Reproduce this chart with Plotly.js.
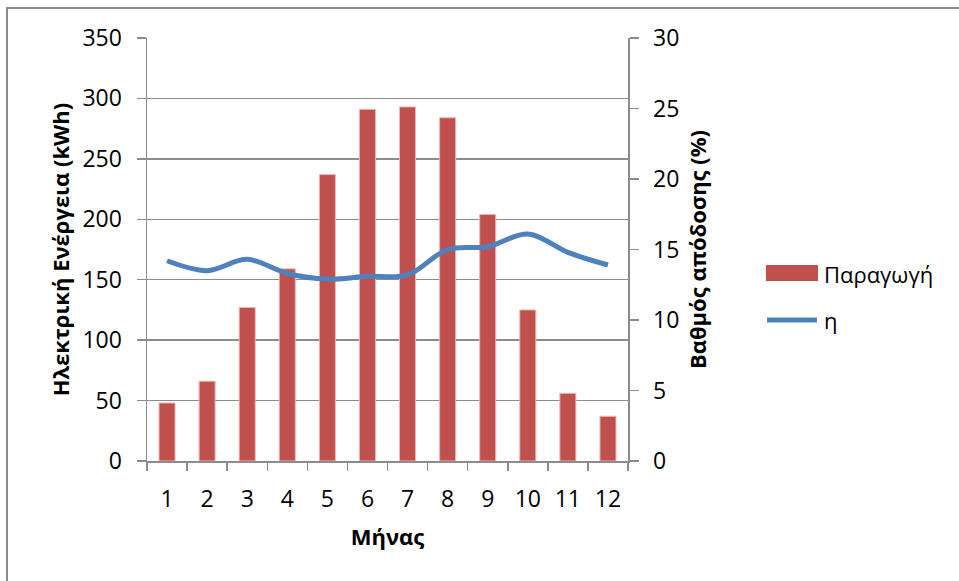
<!DOCTYPE html>
<html>
<head>
<meta charset="utf-8">
<script src="https://cdn.plot.ly/plotly-3.0.1.min.js"></script>
<style>html,body{margin:0;padding:0;background:#fff;overflow:hidden;}#chart{width:959px;height:581px;}</style>
</head>
<body>
<div id="chart"></div>
<script>
const months = ["1","2","3","4","5","6","7","8","9","10","11","12"];
const production = [48, 66, 127, 159, 237, 291, 293, 284, 204, 125, 56, 37];
const efficiency = [14.2, 13.5, 14.3, 13.3, 12.9, 13.1, 13.2, 15.0, 15.2, 16.1, 14.8, 13.9];
const leftTicks = [0, 50, 100, 150, 200, 250, 300, 350];
const rightTicks = [0, 5, 10, 15, 20, 25, 30];
const seriesNames = ["Παραγωγή", "η"];

const FONT = "Open Sans, Noto Sans, sans-serif";
const AX = "#8c8c8c";
const BAR = "#c0504d";
const LINE = "#4f81bd";

// plot area in pixels: x 147..628, y 38..461
const PL = 147, PW = 481, PB = 461, PH = 423;
const px = v => (v - PL) / PW;
const py = v => (PB - v) / PH;

const traces = [
  {
    type: "bar", x: months, y: production, name: seriesNames[0],
    marker: {color: BAR, line: {color: "#e8b8b6", width: 1}},
    width: 0.4, yaxis: "y"
  },
  {
    type: "scatter", mode: "lines", x: months, y: efficiency, name: seriesNames[1],
    line: {color: LINE, width: 5, shape: "spline", smoothing: 1},
    yaxis: "y2"
  }
];

const layout = {
  width: 959, height: 581,
  margin: {l: 147, r: 331, t: 38, b: 120},
  paper_bgcolor: "#fff", plot_bgcolor: "#fff",
  font: {family: FONT, size: 23, color: "#000"},
  showlegend: false,
  xaxis: {
    type: "category", tickson: "boundaries", ticks: "outside", ticklen: 8, tickcolor: AX, tickwidth: 1.5,
    showline: true, linecolor: AX, linewidth: 1.5, showgrid: false,
    tickfont: {size: 23}, ticklabelstandoff: 17,
    title: {text: "<b>Μήνας</b>", font: {size: 22}, standoff: 16}
  },
  yaxis: {
    range: [0, 350], tickvals: leftTicks, ticks: "outside", ticklen: 9, tickcolor: AX, tickwidth: 1.5,
    showline: true, linecolor: AX, linewidth: 1.5, showgrid: true, gridcolor: AX, gridwidth: 1.5,
    zeroline: false, tickfont: {size: 23}, ticklabelstandoff: 10,
    title: {text: "<b>Ηλεκτρική Ενέργεια (kWh)</b>", font: {size: 22}, standoff: 6}
  },
  yaxis2: {
    range: [0, 30], tickvals: rightTicks, overlaying: "y", side: "right",
    ticks: "outside", ticklen: 9, tickcolor: AX, tickwidth: 1.5,
    showline: true, linecolor: AX, linewidth: 1.5, showgrid: false, zeroline: false,
    tickfont: {size: 23}, ticklabelstandoff: 10,
    title: {text: "<b>Βαθμός απόδοσης (%)</b>", font: {size: 22}, standoff: 12}
  },
  shapes: [
    {
      type: "line", xref: "paper", yref: "paper",
      x0: px(7), x1: px(7), y0: py(8), y1: py(590),
      line: {color: AX, width: 2}, layer: "below"
    },
    {
      type: "line", xref: "paper", yref: "paper",
      x0: px(6), x1: px(970), y0: py(8), y1: py(8),
      line: {color: AX, width: 2}, layer: "below"
    },
    {
      type: "rect", xref: "paper", yref: "paper",
      x0: px(766), x1: px(818), y0: py(281), y1: py(265),
      line: {width: 0}, fillcolor: BAR
    },
    {
      type: "line", xref: "paper", yref: "paper",
      x0: px(767), x1: px(817), y0: py(320), y1: py(320),
      line: {color: LINE, width: 5}
    }
  ],
  annotations: [
    {xref: "paper", yref: "paper", x: px(822), y: py(274), xanchor: "left", yanchor: "middle",
     text: seriesNames[0], showarrow: false, font: {size: 22}},
    {xref: "paper", yref: "paper", x: px(822), y: py(320), xanchor: "left", yanchor: "middle",
     text: seriesNames[1], showarrow: false, font: {size: 22}}
  ]
};

Plotly.newPlot("chart", traces, layout, {displayModeBar: false, staticPlot: true});
</script>
</body>
</html>
